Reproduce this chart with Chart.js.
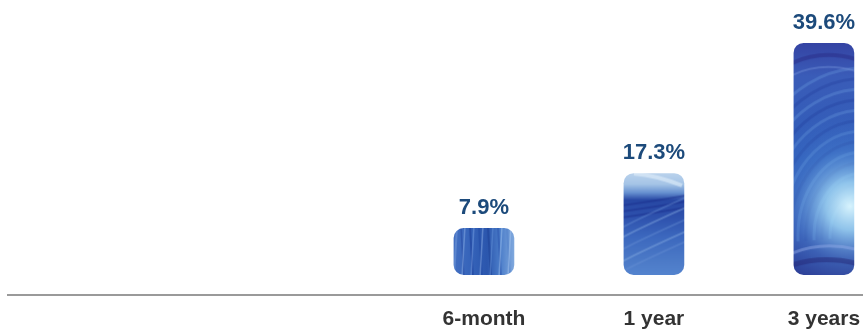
<!DOCTYPE html>
<html>
<head>
<meta charset="utf-8">
<script src="https://cdn.jsdelivr.net/npm/chart.js@4/dist/chart.umd.min.js"></script>
<style>
  html, body { margin: 0; padding: 0; background: #ffffff; }
  #wrap { width: 863px; height: 329px; position: relative; }
</style>
</head>
<body>
<div id="wrap"><canvas id="c"></canvas></div>
<script>
const categories = ['6-month', '1 year', '3 years'];
const values = [7.9, 17.3, 39.6];
const valueLabels = ['7.9%', '17.3%', '39.6%'];

function makeTexture(i, w, h) {
  const cv = document.createElement('canvas');
  cv.width = Math.ceil(w) + 4;
  cv.height = Math.ceil(h) + 4;
  const c = cv.getContext('2d');
  const W = cv.width, H = cv.height;
  if (i === 0) {
    const g = c.createLinearGradient(0, 0, W, 0);
    g.addColorStop(0, '#4470c2');
    g.addColorStop(0.3, '#3563b9');
    g.addColorStop(0.55, '#2b56ad');
    g.addColorStop(0.75, '#4a7cc9');
    g.addColorStop(1, '#86aee0');
    c.fillStyle = g; c.fillRect(0, 0, W, H);
    const streaks = [[3,'rgba(110,150,215,0.6)',2],[7,'rgba(35,70,160,0.5)',1.5],[11,'rgba(140,175,230,0.5)',1.5],[16,'rgba(30,65,155,0.6)',2],[20,'rgba(120,160,225,0.5)',1.5],[25,'rgba(35,75,165,0.55)',2],[29,'rgba(150,185,235,0.45)',1.5],[34,'rgba(30,65,150,0.6)',2],[39,'rgba(100,145,215,0.5)',1.5],[44,'rgba(40,80,170,0.5)',2],[48,'rgba(160,195,240,0.5)',1.5],[53,'rgba(80,125,200,0.5)',2],[57,'rgba(170,200,240,0.5)',1.5]];
    streaks.forEach((s, k) => {
      c.strokeStyle = s[1]; c.lineWidth = s[2];
      c.beginPath();
      const d = (k % 2 ? 3 : -3);
      c.moveTo(s[0] + 2, 0); c.lineTo(s[0] + 2 + d, H);
      c.stroke();
    });
  } else if (i === 1) {
    const g = c.createLinearGradient(0, 0, 0, H);
    g.addColorStop(0, '#bcd4ed');
    g.addColorStop(0.12, '#a5c4e6');
    g.addColorStop(0.2, '#6690d0');
    g.addColorStop(0.27, '#2747a3');
    g.addColorStop(0.42, '#2d50ac');
    g.addColorStop(0.62, '#3c68be');
    g.addColorStop(0.82, '#4a78c6');
    g.addColorStop(1, '#5585cf');
    c.fillStyle = g; c.fillRect(0, 0, W, H);
    c.strokeStyle = 'rgba(225,238,250,0.6)'; c.lineWidth = 4;
    c.beginPath(); c.moveTo(12, 2); c.quadraticCurveTo(35, 4, 60, 14); c.stroke();
    const dark = [30, 36, 42];
    dark.forEach(y => {
      c.strokeStyle = 'rgba(25,45,140,0.45)'; c.lineWidth = 2;
      c.beginPath(); c.moveTo(0, y + 4); c.quadraticCurveTo(30, y, W, y - 6); c.stroke();
    });
    const light = [56, 66, 78, 90, 100];
    light.forEach((y, k) => {
      c.strokeStyle = k % 2 ? 'rgba(140,178,228,0.4)' : 'rgba(110,150,215,0.35)';
      c.lineWidth = 2;
      c.beginPath(); c.moveTo(0, y); c.quadraticCurveTo(28, y - 14, W, y - 30); c.stroke();
    });
  } else {
    const g = c.createLinearGradient(0, 0, 0, H);
    g.addColorStop(0, '#3442a2');
    g.addColorStop(0.15, '#3a5cb8');
    g.addColorStop(0.5, '#2f5db9');
    g.addColorStop(0.8, '#3050ad');
    g.addColorStop(1, '#2b3990');
    c.fillStyle = g; c.fillRect(0, 0, W, H);
    const cx = 70, cy = 195;
    for (let r = 40, k = 0; r <= 160; r += 10, k++) {
      c.strokeStyle = k % 2 ? 'rgba(30,55,150,0.28)' : 'rgba(110,160,225,0.32)';
      c.lineWidth = 3;
      c.beginPath(); c.ellipse(cx, cy, r * 0.8, r * 1.05, 0, Math.PI * 0.98, Math.PI * 1.5); c.stroke();
    }
    const rg = c.createRadialGradient(58, 165, 0, 58, 165, 95);
    rg.addColorStop(0, 'rgba(215,243,253,1)');
    rg.addColorStop(0.25, 'rgba(160,215,245,0.85)');
    rg.addColorStop(0.6, 'rgba(85,145,218,0.35)');
    rg.addColorStop(1, 'rgba(60,110,200,0)');
    c.fillStyle = rg; c.fillRect(0, 0, W, H);
    c.strokeStyle = 'rgba(40,40,130,0.45)'; c.lineWidth = 4;
    c.beginPath(); c.moveTo(0, 22); c.quadraticCurveTo(30, 8, W, 18); c.stroke();
    c.strokeStyle = 'rgba(120,150,220,0.4)'; c.lineWidth = 2;
    c.beginPath(); c.moveTo(0, 34); c.quadraticCurveTo(30, 20, W, 30); c.stroke();
    c.strokeStyle = 'rgba(150,175,235,0.45)'; c.lineWidth = 3;
    c.beginPath(); c.moveTo(0, 212); c.quadraticCurveTo(30, 200, W, 208); c.stroke();
    c.strokeStyle = 'rgba(35,40,120,0.5)'; c.lineWidth = 5;
    c.beginPath(); c.moveTo(0, 224); c.quadraticCurveTo(30, 214, W, 222); c.stroke();
  }
  return cv;
}

const barW = 60;

const valueLabelPlugin = {
  id: 'valueLabels',
  afterDatasetsDraw(chart) {
    const ctx = chart.ctx;
    const meta = chart.getDatasetMeta(0);
    ctx.save();
    ctx.font = 'bold 22px "Liberation Sans", Arial, sans-serif';
    ctx.fillStyle = '#1c4a7b';
    ctx.textAlign = 'center';
    ctx.textBaseline = 'alphabetic';
    meta.data.forEach((el, i) => {
      ctx.fillText(valueLabels[i], el.x, el.y - 14.5);
    });
    ctx.restore();
  }
};

new Chart(document.getElementById('c'), {
  type: 'bar',
  data: {
    datasets: [{
      data: values.map((v, i) => ({ x: i, y: v })),
      barThickness: barW,
      borderRadius: 10,
      borderSkipped: false,
      backgroundColor: (ctx) => {
        const chart = ctx.chart;
        if (!chart.chartArea || ctx.dataIndex === undefined) return '#3a66bd';
        const i = ctx.dataIndex;
        const xs = chart.scales.x, ys = chart.scales.y;
        const cx = xs.getPixelForValue(i);
        const top = ys.getPixelForValue(values[i]);
        const base = ys.getPixelForValue(0);
        const tex = makeTexture(i, barW, base - top);
        const pat = chart.ctx.createPattern(tex, 'no-repeat');
        pat.setTransform(new DOMMatrix([1, 0, 0, 1, cx - barW / 2 - 2, top - 2]));
        return pat;
      }
    }]
  },
  options: {
    responsive: true,
    maintainAspectRatio: false,
    animation: false,
    layout: { padding: { left: 8, right: 0, top: 0, bottom: 0 } },
    plugins: { legend: { display: false }, tooltip: { enabled: false } },
    scales: {
      x: {
        type: 'linear',
        offset: false,
        bounds: 'data',
        min: -2.8,
        max: 2.23,
        grid: { display: false, drawTicks: false, offset: false },
        border: { display: true, color: '#9a9a9a', width: 2 },
        afterBuildTicks: (scale) => { scale.ticks = categories.map((_, i) => ({ value: i })); },
        afterFit: (scale) => { scale.height = 34; scale.paddingRight = 0; scale.paddingLeft = 0; },
        ticks: {
          padding: 12,
          autoSkip: false,
          maxRotation: 0,
          color: '#333333',
          font: { family: '"Liberation Sans", Arial, sans-serif', size: 21, weight: 'bold' },
          callback: (v) => categories[v] !== undefined ? categories[v] : ''
        }
      },
      y: {
        display: false,
        min: -3.5,
        max: 47
      }
    }
  },
  plugins: [valueLabelPlugin]
});
</script>
</body>
</html>
